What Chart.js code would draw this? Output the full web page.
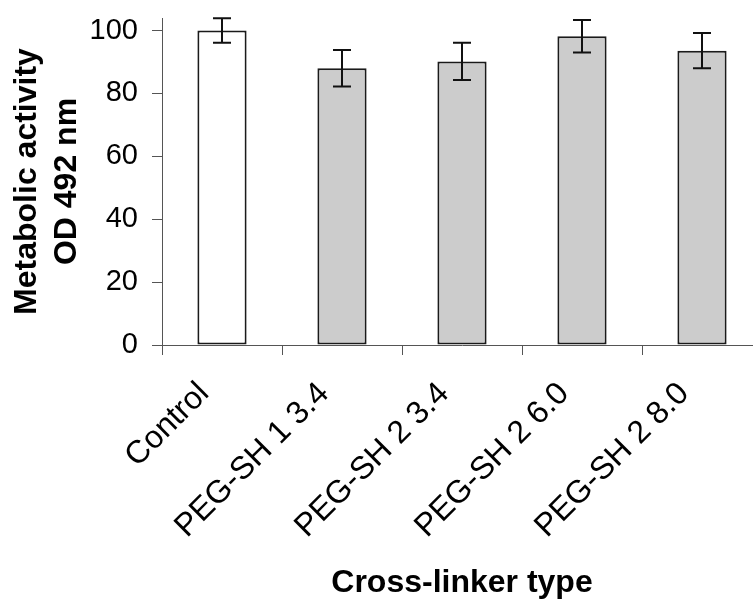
<!DOCTYPE html>
<html>
<head>
<meta charset="utf-8">
<script src="https://cdn.jsdelivr.net/npm/chart.js@4"></script>
<style>
    html, body { margin: 0; padding: 0; background: #fff; overflow: hidden; }
</style>
</head>
<body>
<canvas id="myChart" width="765" height="601"></canvas>
<script>
// values
const categories = ['Control', 'PEG-SH 1 3.4', 'PEG-SH 2 3.4', 'PEG-SH 2 6.0', 'PEG-SH 2 8.0'];
const activity = [100, 88, 90.2, 98.2, 93.6];
const activityError = [3.9, 5.8, 5.9, 5.2, 5.6];
const yTicks = [0, 20, 40, 60, 80, 100];

const FONT = "'Liberation Sans', Arial, sans-serif";
const AXIS_COLOR = '#555555';

// small plugin for the error bars, drawn on top of the bars
const errorBars = {
    id: 'errorBars',
    afterDatasetsDraw(chart) {
        let ctx = chart.ctx;
        let meta = chart.getDatasetMeta(0);
        let yScale = chart.scales.y;
        ctx.save();
        ctx.strokeStyle = '#111111';
        ctx.lineWidth = 2;
        meta.data.forEach((bar, i) => {
            let top = yScale.getPixelForValue(activity[i] + activityError[i]);
            let bottom = yScale.getPixelForValue(activity[i] - activityError[i]);
            let x = bar.x;
            ctx.beginPath();
            ctx.moveTo(x, top);
            ctx.lineTo(x, bottom);
            ctx.moveTo(x - 9, top);
            ctx.lineTo(x + 9, top);
            ctx.moveTo(x - 9, bottom);
            ctx.lineTo(x + 9, bottom);
            ctx.stroke();
        });
        ctx.restore();
    }
};

new Chart(document.getElementById('myChart'), {
    type: 'bar',
    data: {
        labels: categories,
        datasets: [{
            data: activity,
            backgroundColor: ctx => ctx.dataIndex === 0 ? '#ffffff' : '#cccccc',
            borderColor: '#1a1a1a',
            borderWidth: 2,
            borderSkipped: false,
            barPercentage: 0.41,
            categoryPercentage: 1,
        }]
    },
    options: {
        responsive: false,
        animation: false,
        layout: {
            padding: { top: 18, left: 0, right: 3, bottom: 0 }
        },
        plugins: {
            legend: { display: false },
            tooltip: { enabled: false },
        },
        scales: {
            x: {
                grid: {
                    offset: true,
                    drawOnChartArea: false,
                    drawTicks: true,
                    tickLength: 10,
                    color: AXIS_COLOR,
                },
                border: { color: AXIS_COLOR, width: 1 },
                ticks: {
                    color: '#000',
                    font: { family: FONT, size: 32 },
                    minRotation: 45,
                    maxRotation: 45,
                    padding: 20,
                    labelOffset: -18,
                },
                title: {
                    display: true,
                    text: 'Cross-linker type',
                    color: '#000',
                    font: { family: FONT, size: 32, weight: 'bold', lineHeight: 1.1 },
                    padding: { top: 8, bottom: 0 },
                },
                afterFit(scale) {
                    scale.height = 256;
                    scale.paddingTop = 0;
                },
            },
            y: {
                min: 0,
                max: 104,
                afterBuildTicks(scale) {
                    scale.ticks = yTicks.map(v => ({ value: v }));
                },
                grid: {
                    drawOnChartArea: false,
                    drawTicks: true,
                    tickLength: 10,
                    color: AXIS_COLOR,
                },
                border: { color: AXIS_COLOR, width: 1 },
                ticks: {
                    color: '#000',
                    font: { family: FONT, size: 29 },
                    padding: 14,
                },
                title: {
                    display: true,
                    text: ['Metabolic activity', 'OD 492 nm'],
                    color: '#000',
                    font: { family: FONT, size: 32, weight: 'bold', lineHeight: 1.25 },
                    padding: { top: 7, bottom: 4 },
                },
                afterFit(scale) {
                    scale.width = 162;
                    scale.paddingTop = 0;
                },
            }
        }
    },
    plugins: [errorBars],
});
</script>
</body>
</html>
